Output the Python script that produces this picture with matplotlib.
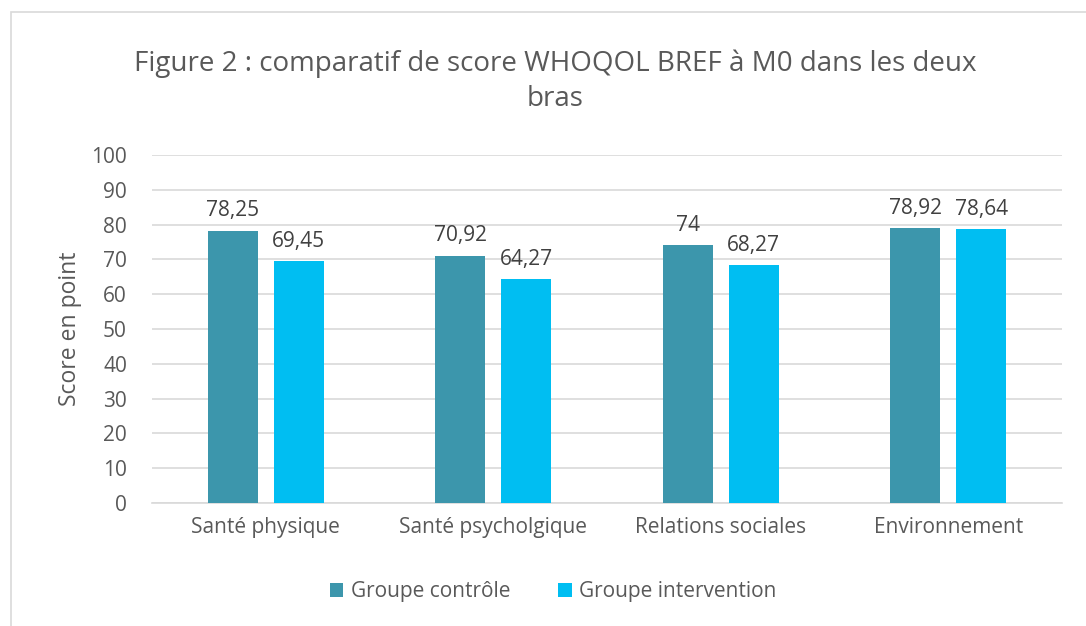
import matplotlib
matplotlib.use("Agg")
import matplotlib.pyplot as plt
from matplotlib.patches import Rectangle
import numpy as np

categories = ["Santé physique", "Santé psycholgique", "Relations sociales", "Environnement"]
controle = [78.25, 70.92, 74, 78.92]
intervention = [69.45, 64.27, 68.27, 78.64]
controle_labels = ["78,25", "70,92", "74", "78,92"]
intervention_labels = ["69,45", "64,27", "68,27", "78,64"]
series_names = ["Groupe contrôle", "Groupe intervention"]
yticks = [0, 10, 20, 30, 40, 50, 60, 70, 80, 90, 100]

plt.rcParams['font.family'] = ['Open Sans', 'DejaVu Sans']
text_color = "#595959"
c1 = "#3C96AC"
c2 = "#00BEF2"
grid_c = "#D9D9D9"

fig = plt.figure(figsize=(10.86, 6.26), dpi=100)
fig.patches.append(Rectangle((11/1086, -0.1), 1.2, 1 - 12/626 + 0.1, transform=fig.transFigure,
                             fill=False, edgecolor=grid_c, linewidth=1.2))
ax = fig.add_axes([152/1086, 1 - 503/626, (1062 - 152)/1086, (503 - 155)/626])

x = np.arange(len(categories))
w = 0.22
off = 0.145
b1 = ax.bar(x - off, controle, w, color=c1, label=series_names[0], zorder=3)
b2 = ax.bar(x + off, intervention, w, color=c2, label=series_names[1], zorder=3)

for rect, lab in zip(b1, controle_labels):
    ax.annotate(lab, (rect.get_x() + rect.get_width()/2, rect.get_height()),
                xytext=(0, 7), textcoords="offset points", ha="center", va="bottom",
                fontsize=15, color="#404040")
for rect, lab in zip(b2, intervention_labels):
    ax.annotate(lab, (rect.get_x() + rect.get_width()/2, rect.get_height()),
                xytext=(0, 7), textcoords="offset points", ha="center", va="bottom",
                fontsize=15, color="#404040")

ax.set_xlim(-0.5, 3.5)
ax.set_ylim(0, 100)
ax.set_yticks(yticks)
ax.set_yticklabels([str(t) for t in yticks], fontsize=15, color=text_color)
ax.set_xticks(x)
ax.set_xticklabels(categories, fontsize=15, color=text_color)
ax.tick_params(axis='both', length=0)
ax.tick_params(axis='y', pad=18)
ax.tick_params(axis='x', pad=10)
ax.grid(axis='y', color=grid_c, linewidth=1.2, zorder=0)
for s in ["left", "right", "top"]:
    ax.spines[s].set_visible(False)
ax.spines["bottom"].set_color(grid_c)
ax.spines["bottom"].set_linewidth(1.2)

ax.set_ylabel("Score en point", fontsize=16.5, color=text_color, labelpad=7)

fig.text(555/1086, 1 - 81/626, "Figure 2 : comparatif de score WHOQOL BREF à M0 dans les deux\nbras",
         ha="center", va="center", fontsize=20, color=text_color, linespacing=1.35)

leg = fig.legend(handles=[b1, b2], labels=series_names, loc="center", bbox_to_anchor=(553/1086, 1 - 592/626),
                 ncol=2, frameon=False, fontsize=15, handlelength=0.65, handleheight=0.65,
                 handletextpad=0.35, columnspacing=2.3)
for t in leg.get_texts():
    t.set_color(text_color)

fig.savefig("out.png", dpi=100)
